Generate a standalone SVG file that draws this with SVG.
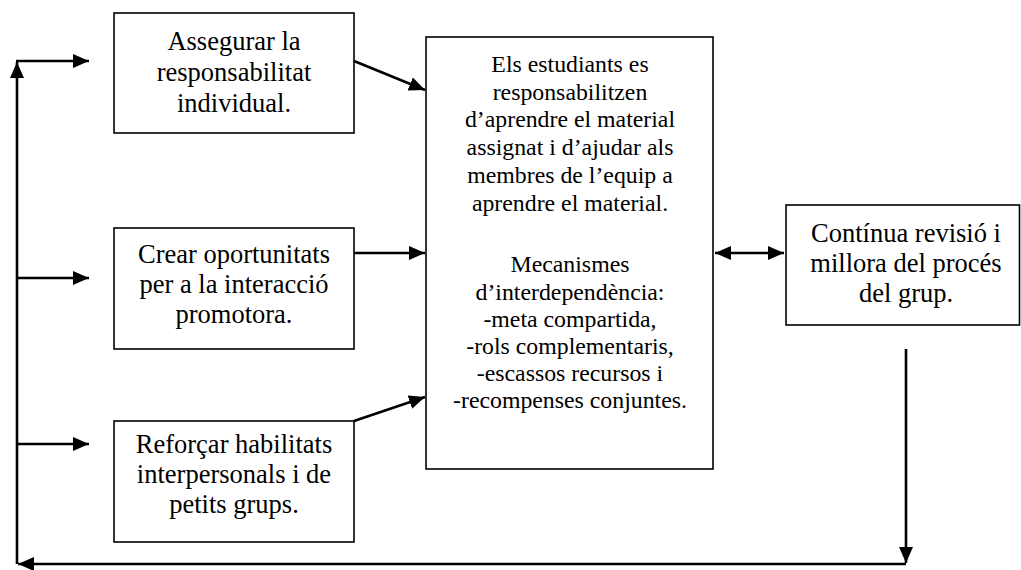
<svg xmlns="http://www.w3.org/2000/svg" width="1021" height="570" viewBox="0 0 1021 570">
  <style>
    .box { fill: #fff; stroke: #000; stroke-width: 1.6; }
    .side, .core { font-family: "Liberation Serif", Tinos, "Times New Roman", "DejaVu Serif", serif; fill: #000; text-anchor: middle; }
    .side { font-size: 26.5px; }
    .core { font-size: 23.8px; }
    .link { fill: none; stroke: #000; stroke-width: 2.6; }
  </style>
  <defs>
    <marker id="head" markerUnits="userSpaceOnUse" markerWidth="20" markerHeight="16" refX="16" refY="7" orient="auto-start-reverse">
      <path d="M0,0 L16,7 L0,14 Z" fill="#000"/>
    </marker>
  </defs>
  <rect width="1021" height="570" fill="#fff"/>

  <g id="connectors">
    <!-- feedback loop on the left -->
    <path class="link" d="M906,564 H18" marker-end="url(#head)"/>
    <path class="link" d="M17,564 V62" marker-end="url(#head)"/>
    <path class="link" d="M16,61 H89" marker-end="url(#head)"/>
    <path class="link" d="M17,278 H89" marker-end="url(#head)"/>
    <path class="link" d="M17,444 H89" marker-end="url(#head)"/>
    <!-- side boxes into the central box -->
    <path class="link" d="M354,61 L425,90" marker-end="url(#head)"/>
    <path class="link" d="M354,253 H425" marker-end="url(#head)"/>
    <path class="link" d="M354,421 L425,397" marker-end="url(#head)"/>
    <!-- central box and review box -->
    <path class="link" d="M715,253 H784" marker-start="url(#head)" marker-end="url(#head)"/>
    <path class="link" d="M906,349 V563" marker-end="url(#head)"/>
  </g>

  <g id="node-responsabilitat">
    <rect class="box" x="114" y="13" width="240" height="120"/>
    <text class="side" x="234" y="50">Assegurar la</text>
    <text class="side" x="234" y="81">responsabilitat</text>
    <text class="side" x="234" y="112">individual.</text>
  </g>

  <g id="node-interaccio">
    <rect class="box" x="114" y="228" width="240" height="121"/>
    <text class="side" x="234" y="263">Crear oportunitats</text>
    <text class="side" x="234" y="293">per a la interacció</text>
    <text class="side" x="234" y="323">promotora.</text>
  </g>

  <g id="node-habilitats">
    <rect class="box" x="114" y="421" width="240" height="121"/>
    <text class="side" x="234" y="453">Reforçar habilitats</text>
    <text class="side" x="234" y="483">interpersonals i de</text>
    <text class="side" x="234" y="513">petits grups.</text>
  </g>

  <g id="node-central">
    <rect class="box" x="426" y="37" width="287" height="432"/>
    <text class="core" x="570" y="72">Els estudiants es</text>
    <text class="core" x="570" y="100">responsabilitzen</text>
    <text class="core" x="570" y="127">d’aprendre el material</text>
    <text class="core" x="570" y="155">assignat i d’ajudar als</text>
    <text class="core" x="570" y="183">membres de l’equip a</text>
    <text class="core" x="570" y="211">aprendre el material.</text>
    <text class="core" x="570" y="272">Mecanismes</text>
    <text class="core" x="570" y="300">d’interdependència:</text>
    <text class="core" x="570" y="327">-meta compartida,</text>
    <text class="core" x="570" y="354">-rols complementaris,</text>
    <text class="core" x="570" y="381">-escassos recursos i</text>
    <text class="core" x="570" y="408">-recompenses conjuntes.</text>
  </g>

  <g id="node-revisio">
    <rect class="box" x="786" y="205" width="233.5" height="120"/>
    <text class="side" x="906" y="242">Contínua revisió i</text>
    <text class="side" x="906" y="272">millora del procés</text>
    <text class="side" x="906" y="302">del grup.</text>
  </g>
</svg>
